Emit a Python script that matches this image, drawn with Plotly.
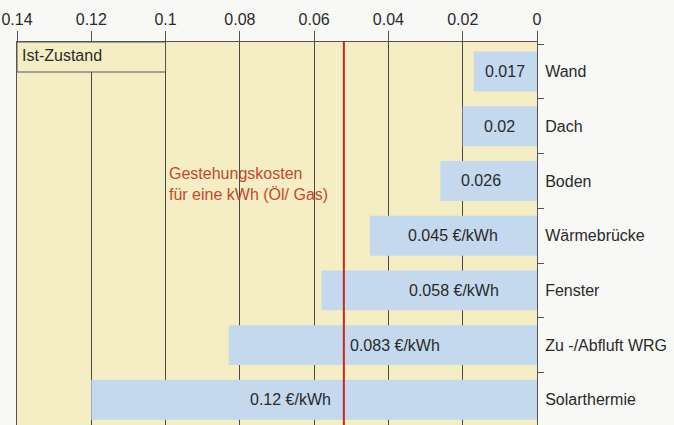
import plotly.graph_objects as go

categories = ["Wand", "Dach", "Boden", "Wärmebrücke", "Fenster", "Zu -/Abfluft WRG", "Solarthermie"]
costs = [0.017, 0.02, 0.026, 0.045, 0.058, 0.083, 0.12]
bar_labels = ["0.017", "0.02", "0.026", "0.045 €/kWh", "0.058 €/kWh", "0.083 €/kWh", "0.12 €/kWh"]
tick_vals = [0.14, 0.12, 0.1, 0.08, 0.06, 0.04, 0.02, 0]
tick_text = ["0.14", "0.12", "0.1", "0.08", "0.06", "0.04", "0.02", "0"]
reference_cost = 0.052
ist_zustand_from = 0.1

FONT = "Liberation Sans, Arial, sans-serif"
BEIGE = "#f5edc4"
BLUE = "#c4d8ee"
RED = "#c8281e"
TXT = "#2a2a2a"

fig = go.Figure()
fig.add_trace(go.Bar(
    y=categories, x=costs, orientation="h",
    marker=dict(color=BLUE, line=dict(width=0)),
    hoverinfo="skip", showlegend=False,
))

# label positions (annotation anchors)
label_x = [c / 2 for c in costs]
label_x[2] = 0.015
label_x[4] = 0.0224
label_anchor = ["center"] * 7
label_x[5] = reference_cost - 0.0012
label_anchor[5] = "left"
label_x[6] = reference_cost + 0.003
label_anchor[6] = "right"

for cat, lx, txt, anc in zip(categories, label_x, bar_labels, label_anchor):
    fig.add_annotation(x=lx, y=cat, text=txt, showarrow=False, xanchor=anc,
                       font=dict(family=FONT, size=16, color=TXT))

# reference line
fig.add_shape(type="line", xref="x", yref="paper", x0=reference_cost, x1=reference_cost,
              y0=0, y1=1, line=dict(color=RED, width=2), layer="above")
fig.add_annotation(xref="x", yref="paper", x=0.0995, y=1 - (184 - 42) / 383,
                   text="Gestehungskosten<br>für eine kWh (Öl/ Gas)", showarrow=False,
                   xanchor="left", yanchor="middle", align="left",
                   font=dict(family=FONT, size=16, color="#c24a2c"))

# Ist-Zustand box
fig.add_shape(type="rect", xref="x", yref="paper", x0=0.14, x1=ist_zustand_from,
              y0=1 - 30 / 383, y1=1, fillcolor=BEIGE,
              line=dict(color="#555555", width=1), layer="above")
fig.add_annotation(xref="x", yref="paper", x=0.1392, y=1 - 14 / 383, text="Ist-Zustand",
                   showarrow=False, xanchor="left", yanchor="middle",
                   font=dict(family=FONT, size=16, color=TXT))

fig.update_layout(
    width=674, height=425,
    margin=dict(l=17, r=137, t=42, b=0, autoexpand=False),
    paper_bgcolor="#f8f8f6", plot_bgcolor=BEIGE,
    bargap=0.27,
    font=dict(family=FONT, size=16, color=TXT),
    xaxis=dict(
        side="top", range=[0.14, 0], tickvals=tick_vals, ticktext=tick_text,
        ticks="outside", ticklen=10, tickcolor="#555555", tickwidth=1,
        showgrid=True, gridcolor="#4a4a4a", gridwidth=1,
        showline=True, linecolor="#555555", linewidth=1,
        zeroline=False, automargin=False, tickfont=dict(size=16, color=TXT),
    ),
    yaxis=dict(
        side="right", categoryorder="array", categoryarray=categories,
        autorange=False, range=[6.46, -0.54],
        ticks="outside", ticklen=6, tickcolor="#555555", tickson="boundaries",
        showline=True, linecolor="#555555", linewidth=1, mirror=True,
        showgrid=False, zeroline=False, automargin=False, ticklabelstandoff=4,
        tickfont=dict(size=16, color=TXT),
    ),
)

fig.write_html("out.html", config={"displayModeBar": False},
               post_script="document.body.style.margin='0px';document.body.style.overflow='hidden';")
